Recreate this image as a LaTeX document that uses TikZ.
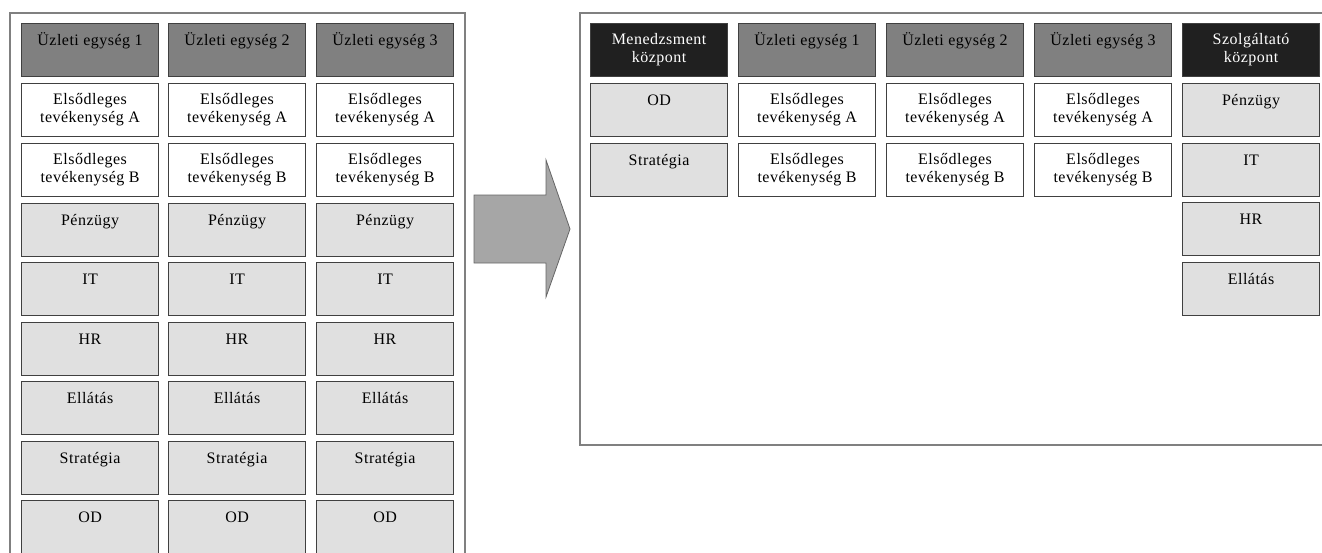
\documentclass[tikz,border=0pt]{standalone}
\usepackage{fontspec}
\setmainfont{Liberation Serif}[LetterSpace=3]
\definecolor{unitgray}{RGB}{128,128,128}
\definecolor{hubblack}{RGB}{32,32,32}
\definecolor{suppgray}{RGB}{224,224,224}
\definecolor{framegray}{RGB}{128,128,128}
\definecolor{arrowgray}{RGB}{166,166,166}
\begin{document}
\begin{tikzpicture}[x=1pt,y=-1pt,font=\fontsize{16}{18}\selectfont,
      box/.style={draw=black!75,line width=1.1pt,minimum width=137pt,minimum height=53pt,
        inner sep=0pt,anchor=north west,align=center},
      unit/.style={box,fill=unitgray,text height=12pt,text depth=21pt},
      hub/.style={box,fill=hubblack,text=white},
      prim/.style={box,fill=white},
      supp/.style={box,fill=suppgray,text height=12pt,text depth=21pt}]
  \useasboundingbox (0,0) rectangle (1322,552);
  % frames
  \draw[framegray,line width=1.5pt] (10,560) -- (10,13) -- (465,13) -- (465,560);
  \draw[framegray,line width=1.5pt] (1330,13) -- (580,13) -- (580,445) -- (1330,445);
  % before: every unit does everything
  \foreach \c [count=\i] in {21,168,316}{
    \node[unit] (l\i-0) at (\c,23) {Üzleti egység \i};
    \node[prim] (l\i-a) at (\c,83) {Elsődleges\\tevékenység A};
    \node[prim] (l\i-b) at (\c,143) {Elsődleges\\tevékenység B};
    \foreach \y/\t [count=\k] in {203/Pénzügy,262/IT,322/HR,381/Ellátás,441/Stratégia,500/OD}
      \node[supp] (l\i-s\k) at (\c,\y) {\t};
  }
  % shift
  \draw[draw=black!60,fill=arrowgray,line width=.8pt]
    (474,195) -- (546,195) -- (546,160) -- (570,229) -- (546,297) -- (546,263) -- (474,263) -- cycle;
  % after: management and service centres
  \node[hub] (mc) at (590,23) {Menedzsment\\központ};
  \node[supp] (mc-od) at (590,83) {OD};
  \node[supp] (mc-str) at (590,143) {Stratégia};
  \foreach \c [count=\i] in {738,886,1034}{
    \node[unit] (r\i-0) at (\c,23) {Üzleti egység \i};
    \node[prim] (r\i-a) at (\c,83) {Elsődleges\\tevékenység A};
    \node[prim] (r\i-b) at (\c,143) {Elsődleges\\tevékenység B};
  }
  \node[hub] (sc) at (1182,23) {Szolgáltató\\központ};
  \foreach \y/\t [count=\k] in {83/Pénzügy,143/IT,202/HR,261.5/Ellátás}
    \node[supp] (sc-\k) at (1182,\y) {\t};
\end{tikzpicture}
\end{document}
